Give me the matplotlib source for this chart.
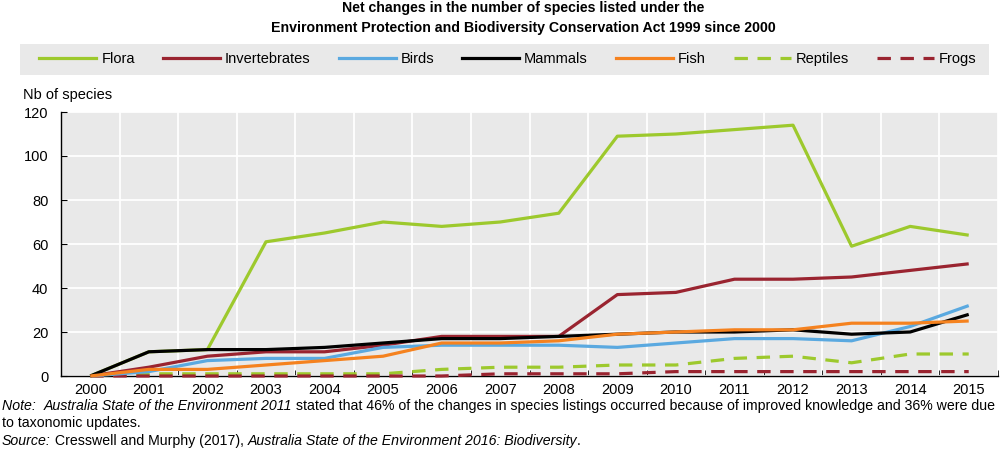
import matplotlib.pyplot as plt
from matplotlib.lines import Line2D
import numpy as np

years = list(range(2000, 2016))
flora = [0, 11, 12, 61, 65, 70, 68, 70, 74, 109, 110, 112, 114, 59, 68, 64]
invertebrates = [0, 4, 9, 11, 11, 14, 18, 18, 18, 37, 38, 44, 44, 45, 48, 51]
birds = [0, 2, 7, 8, 8, 13, 14, 14, 14, 13, 15, 17, 17, 16, 22.5, 32]
mammals = [0, 11, 12, 12, 13, 15, 17, 17, 18, 19, 20, 20, 21, 19, 20, 28]
fish = [0, 3, 3, 5, 7, 9, 15, 15, 16, 19, 20, 21, 21, 24, 24, 25]
reptiles = [0, 1, 1, 1, 1, 1, 3, 4, 4, 5, 5, 8, 9, 6, 10, 10]
frogs = [0, 0, 0, 0, 0, 0, 0, 1, 1, 1, 2, 2, 2, 2, 2, 2]

plt.rcParams['font.family'] = ['Liberation Sans', 'DejaVu Sans']

green = '#9dc92d'
red = '#9a2430'
blue = '#5aa9e0'
orange = '#f5821f'
dash = (0, (4.2, 3))

# name, values, colour, style, zorder
series = [
    ('Flora', flora, green, '-', 4),
    ('Invertebrates', invertebrates, red, '-', 5),
    ('Birds', birds, blue, '-', 6),
    ('Mammals', mammals, 'black', '-', 7),
    ('Fish', fish, orange, '-', 8),
    ('Reptiles', reptiles, green, dash, 3),
    ('Frogs', frogs, red, dash, 3.5),
]

W, H = 1000, 466
fig = plt.figure(figsize=(W / 100, H / 100), dpi=100)
renderer = fig.canvas.get_renderer()

ax = fig.add_axes([61 / W, 1 - 376 / H, 937 / W, 264 / H])
ax.set_facecolor('#e9e9e9')

x = np.arange(len(years))
for name, vals, col, ls, z in series:
    ax.plot(x, vals, color=col, linestyle=ls, lw=2.3, solid_capstyle='butt',
            dash_capstyle='butt', clip_on=False, zorder=z)

ax.set_xlim(-0.5, len(years) - 0.5)
ax.set_ylim(0, 120)
ax.set_yticks(range(0, 121, 20))
ax.set_xticks(x)
ax.set_xticklabels([str(y) for y in years])
ax.set_xticks(np.arange(-0.5, len(years)), minor=True)
ax.tick_params(axis='x', which='major', length=0, labelsize=10.5, pad=5)
ax.tick_params(axis='x', which='minor', length=4, direction='in', color='black')
ax.tick_params(axis='y', length=4, direction='in', labelsize=10.5, pad=9)
ax.grid(True, axis='y', color='white', lw=1.3)
ax.grid(True, axis='x', which='minor', color='white', lw=1.3)
ax.set_axisbelow(True)
for s in ['top', 'right']:
    ax.spines[s].set_visible(False)
ax.spines['left'].set_linewidth(1)
ax.spines['bottom'].set_linewidth(1)


def width_at(txt, size, **kw):
    t = fig.text(0, 0, txt, fontsize=size, **kw)
    w = t.get_window_extent(renderer).width
    t.remove()
    return w


def row(segments, x0, y, size):
    # segments: list of (text, style); placed one after another
    xp = x0
    for txt, st in segments:
        t = fig.text(xp / W, 1 - y / H, txt, fontsize=size, style=st, va='center')
        xp += t.get_window_extent(renderer).width


# title, sized so line 2 spans like the reference
t1 = 'Net changes in the number of species listed under the'
t2 = 'Environment Protection and Biodiversity Conservation Act 1999 since 2000'
tsize = 10 * 507 / width_at(t2, 10, fontweight='bold')
fig.text(0.523, 1 - 8 / H, t1, ha='center', va='center', fontsize=tsize, fontweight='bold')
fig.text(0.523, 1 - 28 / H, t2, ha='center', va='center', fontsize=tsize, fontweight='bold')

# legend band
band = plt.Rectangle((20 / W, 1 - 75 / H), 969 / W, 31 / H, transform=fig.transFigure,
                     facecolor='#e9e9e9', edgecolor='none', zorder=0)
fig.patches.append(band)
lsize = 10.5
px = lsize * 100 / 72
handles = [Line2D([], [], color=c, linestyle=ls, lw=2.3) for _, _, c, ls, _ in series]
fig.legend(handles, [s[0] for s in series], loc='center',
           bbox_to_anchor=(508 / W, 1 - 59 / H), ncol=7, frameon=False,
           fontsize=lsize, handlelength=57 / px, handletextpad=5 / px,
           columnspacing=28 / px, borderpad=0, borderaxespad=0)

fig.text(23 / W, 1 - 95 / H, 'Nb of species', fontsize=10.5, va='center')

# footnotes, sized so the note line spans like the reference
note = [('Note:  ', 'italic'),
        ('Australia State of the Environment 2011', 'italic'),
        (' stated that 46% of the changes in species listings occurred because of '
         'improved knowledge and 36% were due', 'normal')]
nw = sum(width_at(t, 10, style=s) for t, s in note)
nsize = 10 * 990 / nw
row(note, 2, 406, nsize)
row([('to taxonomic updates.', 'normal')], 2, 423, nsize)
row([('Source:', 'italic'), (' Cresswell and Murphy (2017), ', 'normal'),
     ('Australia State of the Environment 2016: Biodiversity', 'italic'),
     ('.', 'normal')], 2, 441, nsize)

fig.savefig('out.png', dpi=100)
